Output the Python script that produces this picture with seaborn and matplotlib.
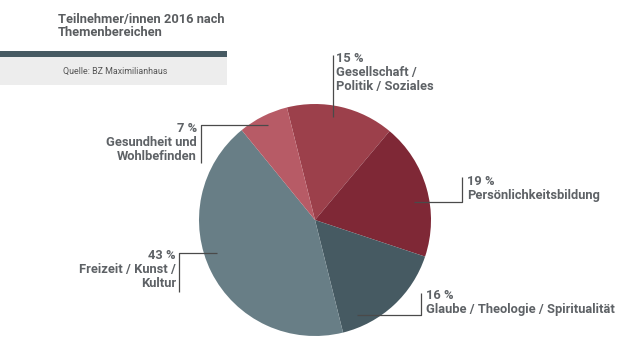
import matplotlib
matplotlib.use("Agg")
import matplotlib.pyplot as plt
from matplotlib.patches import Rectangle
import seaborn as sns

# Participants 2016 by topic area (percent)
categories = [
    "Gesellschaft /\nPolitik / Soziales",
    "Persönlichkeitsbildung",
    "Glaube / Theologie / Spiritualität",
    "Freizeit / Kunst /\nKultur",
    "Gesundheit und\nWohlbefinden",
]
shares = [15, 19, 16, 43, 7]
colors = ["#9c404b", "#7f2836", "#465a62", "#687e86", "#b75b66"]

title = "Teilnehmer/innen 2016 nach\nThemenbereichen"
source = "Quelle: BZ Maximilianhaus"

sns.set_theme(style="white")
plt.rcParams["font.family"] = ["Roboto", "DejaVu Sans"]

W, H = 634, 349
fig = plt.figure(figsize=(W / 100, H / 100), dpi=100)
ax = fig.add_axes([0, 0, 1, 1])
ax.set_xlim(0, W)
ax.set_ylim(0, H)
ax.set_aspect("equal")
ax.axis("off")

def py(y):
    return H - y

text_col = "#5e6266"
line_col = "#4a4a4a"

# header
ax.text(58, py(13), title, ha="left", va="top", fontsize=9.3,
        fontweight="bold", color="#5a5d60", linespacing=1.02)
ax.add_patch(Rectangle((0, py(57)), 227, 6, color="#465a62", lw=0))
ax.add_patch(Rectangle((0, py(85)), 227, 28, color="#ededed", lw=0))
ax.text(115, py(71), source, ha="center", va="center", fontsize=6.4,
        color="#555555")

# pie
cx, cy, r = 315, py(220), 116
ax.pie(shares, colors=sns.color_palette(colors), startangle=104,
       counterclock=False, center=(cx, cy), radius=r, frame=True,
       wedgeprops=dict(linewidth=0))
ax.set_xlim(0, W)
ax.set_ylim(0, H)
ax.axis("off")

labels = [f"{v} %\n{c}" for v, c in zip(shares, categories)]

# label layout: text anchor, alignment, leader path
layout = [
    dict(xy=(336, 52), ha="left", path=[(333, 55), (333, 117)]),
    dict(xy=(467, 175), ha="left", path=[(462, 177), (462, 202), (414, 202)]),
    dict(xy=(426, 289), ha="left", path=[(421, 293), (421, 315), (357, 315)]),
    dict(xy=(176, 249), ha="right", path=[(217, 253), (179, 253), (179, 292)]),
    dict(xy=(197, 122), ha="right", path=[(268, 125), (201, 125), (201, 163)]),
]
for lab, lay in zip(labels, layout):
    xs = [p[0] for p in lay["path"]]
    ys = [py(p[1]) for p in lay["path"]]
    ax.plot(xs, ys, color=line_col, lw=0.9, solid_capstyle="butt")
    ax.text(lay["xy"][0], py(lay["xy"][1]), lab, ha=lay["ha"], va="top",
            multialignment=lay["ha"], fontsize=9.3, fontweight="bold",
            color=text_col, linespacing=1.12)

fig.savefig("out.png", dpi=100)
